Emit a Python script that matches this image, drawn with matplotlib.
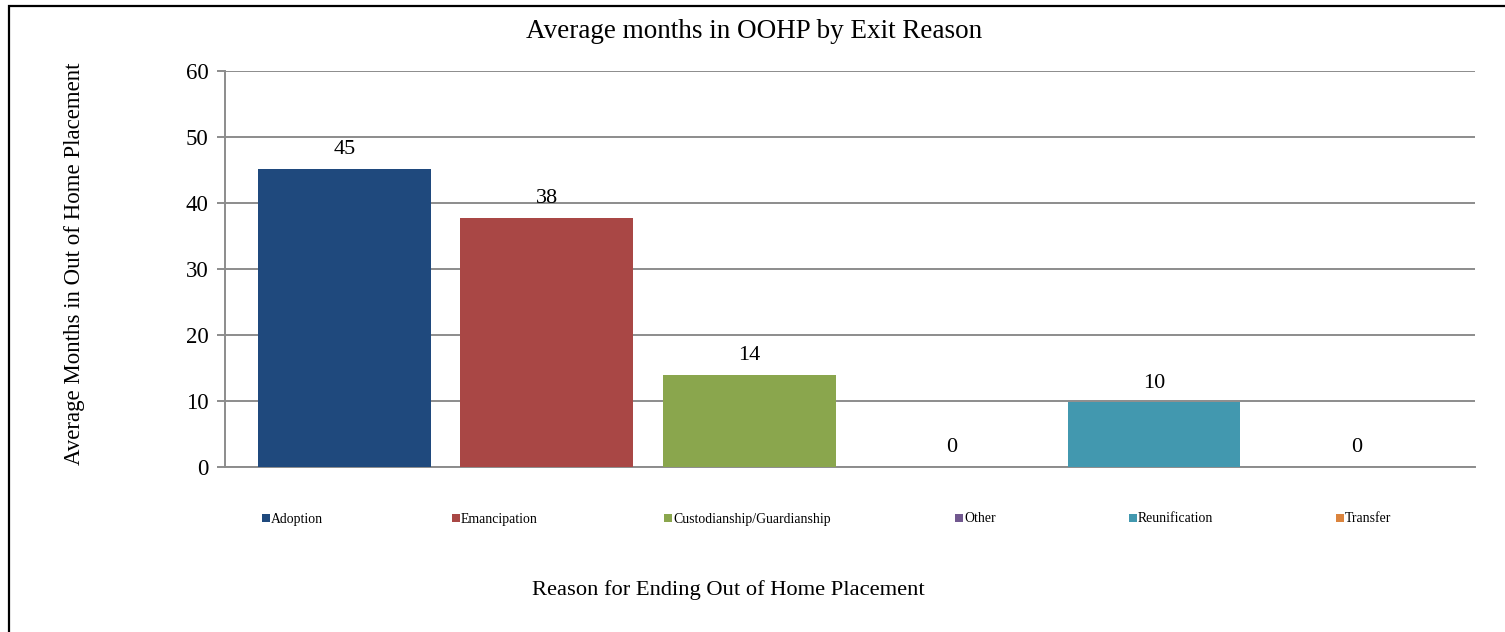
import matplotlib.pyplot as plt
import matplotlib.patches as mpatches

# data
reasons = ['Adoption', 'Emancipation', 'Custodianship/Guardianship',
           'Other', 'Reunification', 'Transfer']
avg_months = [45.2, 37.8, 14.0, 0.0, 9.8, 0.0]
value_labels = ['45', '38', '14', '0', '10', '0']
colors = ['#1F497D', '#A94745', '#8AA64D', '#71588F', '#4298AF', '#DB843D']

plt.rcParams['font.family'] = ['Liberation Serif', 'DejaVu Serif']

W, H = 1505, 632
fig = plt.figure(figsize=(W / 100, H / 100), dpi=100)

# outer frame (runs off right and bottom like the screenshot)
fig.patches.append(mpatches.Rectangle((9 / W, -0.05), 1.2, 1 - 6 / H + 0.05,
                                      transform=fig.transFigure, fill=False,
                                      edgecolor='black', linewidth=1.6))

ax = fig.add_axes([225 / W, 1 - 467 / H, 1250 / W, 396 / H])
x = list(range(len(reasons)))
bars = ax.bar(x, avg_months, width=0.853, color=colors, zorder=3)

for b, lab in zip(bars, value_labels):
    ax.annotate(lab, (b.get_x() + b.get_width() / 2, b.get_height()),
                xytext=(0, 7), textcoords='offset points',
                ha='center', va='bottom', fontsize=16)

ax.set_ylim(0, 60)
ax.set_yticks(range(0, 61, 10))
ax.set_xlim(-0.589, 5.585)
ax.set_xticks([])
ax.grid(axis='y', color='#8c8c8c', linewidth=1.4, zorder=0)
for s in ['top', 'right']:
    ax.spines[s].set_visible(False)
for s in ['left', 'bottom']:
    ax.spines[s].set_color('#8c8c8c')
    ax.spines[s].set_linewidth(1.4)
ax.tick_params(axis='y', labelsize=16.5, length=6, width=1.4,
               color='#8c8c8c', pad=6)

fig.text(754 / W, 1 - 32 / H, 'Average months in OOHP by Exit Reason',
         ha='center', va='center', fontsize=19.5)
fig.text(75 / W, 1 - 264 / H, 'Average Months in Out of Home Placement',
         ha='center', va='center', rotation=90, fontsize=16.5)
fig.text(728 / W, 1 - 590 / H, 'Reason for Ending Out of Home Placement',
         ha='center', va='center', fontsize=16.2)

# legend entries spread across the bottom, Excel style
legend_x = [262, 452, 664, 955, 1129, 1336]
for lx, name, c in zip(legend_x, reasons, colors):
    fig.patches.append(mpatches.Rectangle((lx / W, 1 - 522 / H), 8 / W, 8 / H,
                                          transform=fig.transFigure,
                                          facecolor=c, edgecolor='none'))
    fig.text((lx + 9) / W, 1 - 519 / H, name, ha='left', va='center',
             fontsize=9.9)

fig.savefig('out.png', dpi=100)
